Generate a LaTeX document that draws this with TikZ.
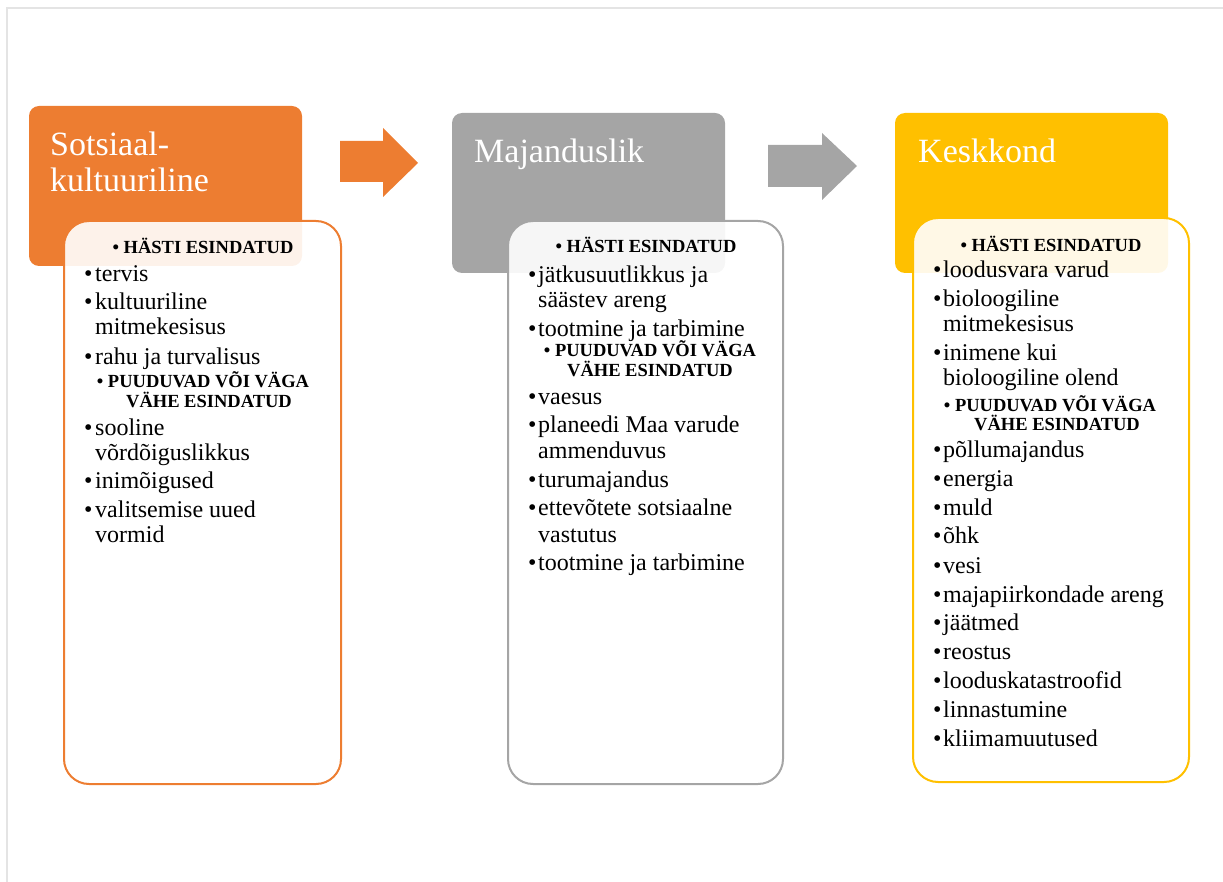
\documentclass[tikz,border=0pt]{standalone}
\usepackage{fontspec}
\setmainfont{Liberation Serif}
\definecolor{cor}{HTML}{ED7D31}
\definecolor{cgr}{HTML}{A5A5A5}
\definecolor{cye}{HTML}{FFC000}
\definecolor{cfr}{HTML}{E4E4E4}
\begin{document}
\begin{tikzpicture}[x=1pt,y=-1pt,
  hdr/.style={fill=#1, draw=none, rounded corners=10pt, minimum width=273pt, minimum height=160pt, inner sep=0pt},
  inner/.style={draw=#1, line width=2pt, fill=white, fill opacity=0.9, rounded corners=25pt, inner sep=0pt},
  ttl/.style={anchor=base west, inner sep=0pt, text=white, font=\fontsize{34}{36}\selectfont},
  body/.style={anchor=base west, inner sep=0pt, font=\fontsize{24}{25}\selectfont},
  bhd/.style={anchor=base, inner sep=0pt, font=\fontsize{18.5}{19}\selectfont\bfseries},
  blockarrow/.style={fill=#1, draw=none}]
\useasboundingbox (0,0) rectangle (1223,882);
% page frame
\draw[cfr, line width=1.5pt] (7,882) -- (7,8) -- (1223,8);
% headers
\node[hdr=cor] (h1) at (165.5,186) {};
\node[hdr=cgr] (h2) at (588.5,193) {};
\node[hdr=cye] (h3) at (1031.5,193) {};
% inner boxes
\node[inner=cor, minimum width=277pt, minimum height=563pt] (b1) at (202.5,502.5) {};
\node[inner=cgr, minimum width=275pt, minimum height=563pt] (b2) at (645.5,502.5) {};
\node[inner=cye, minimum width=276pt, minimum height=564pt] (b3) at (1051,500) {};
% arrows
\fill[blockarrow=cor] (340,141) -- (383,141) -- (383,128) -- (418,163) -- (383,197) -- (383,182) -- (340,182) -- cycle;
\fill[blockarrow=cgr] (768,145) -- (822,145) -- (822,133) -- (857,166) -- (822,200) -- (822,187) -- (768,187) -- cycle;
% titles
\node[ttl] (t1a) at (50,156) {Sotsiaal-};
\node[ttl] (t1b) at (50,192) {kultuuriline};
\node[ttl] (t2) at (474,163) {Majanduslik};
\node[ttl] (t3) at (918,163) {Keskkond};
% box 1 text
\node[bhd] (k1a) at (203,254) {• HÄSTI ESINDATUD};
\node[bhd] (k1b) at (203,388) {• PUUDUVAD VÕI VÄGA};
\node[bhd] (k1c) at (209,407) {VÄHE ESINDATUD};
\foreach \y/\t [count=\i] in {282/tervis, 310/kultuuriline, 335/mitmekesisus, 364/rahu ja turvalisus, 435/sooline, 460/võrdõiguslikkus, 488/inimõigused, 517/valitsemise uued, 542/vormid}
  \node[body] (p1t\i) at (95,\y) {\t};
\foreach \y [count=\i] in {282,310,364,435,488,517}
  \node[body] (p1b\i) at (84,\y) {•};
% box 2 text
\node[bhd] (k2a) at (646,253) {• HÄSTI ESINDATUD};
\node[bhd] (k2b) at (650,356) {• PUUDUVAD VÕI VÄGA};
\node[bhd] (k2c) at (650,376) {VÄHE ESINDATUD};
\foreach \y/\t [count=\i] in {283/jätkusuutlikkus ja, 308/säästev areng, 337/tootmine ja tarbimine, 404/vaesus, 432/planeedi Maa varude, 458/ammenduvus, 487/turumajandus, 515/ettevõtete sotsiaalne, 542/vastutus, 570/tootmine ja tarbimine}
  \node[body] (p2t\i) at (538,\y) {\t};
\foreach \y [count=\i] in {283,337,404,432,487,515,570}
  \node[body] (p2b\i) at (528,\y) {•};
% box 3 text
\node[bhd] (k3a) at (1051,252) {• HÄSTI ESINDATUD};
\node[bhd] (k3b) at (1050,411) {• PUUDUVAD VÕI VÄGA};
\node[bhd] (k3c) at (1057,430) {VÄHE ESINDATUD};
\foreach \y/\t [count=\i] in {278/loodusvara varud, 307/bioloogiline, 332/mitmekesisus, 360/inimene kui, 385/bioloogiline olend, 457/põllumajandus, 486/energia, 515/muld, 543/õhk, 573/vesi, 602/majapiirkondade areng, 630/jäätmed, 659/reostus, 688/looduskatastroofid, 717/linnastumine, 746/kliimamuutused}
  \node[body] (p3t\i) at (943,\y) {\t};
\foreach \y [count=\i] in {278,307,360,457,486,515,543,573,602,630,659,688,717,746}
  \node[body] (p3b\i) at (933,\y) {•};
\end{tikzpicture}
\end{document}
